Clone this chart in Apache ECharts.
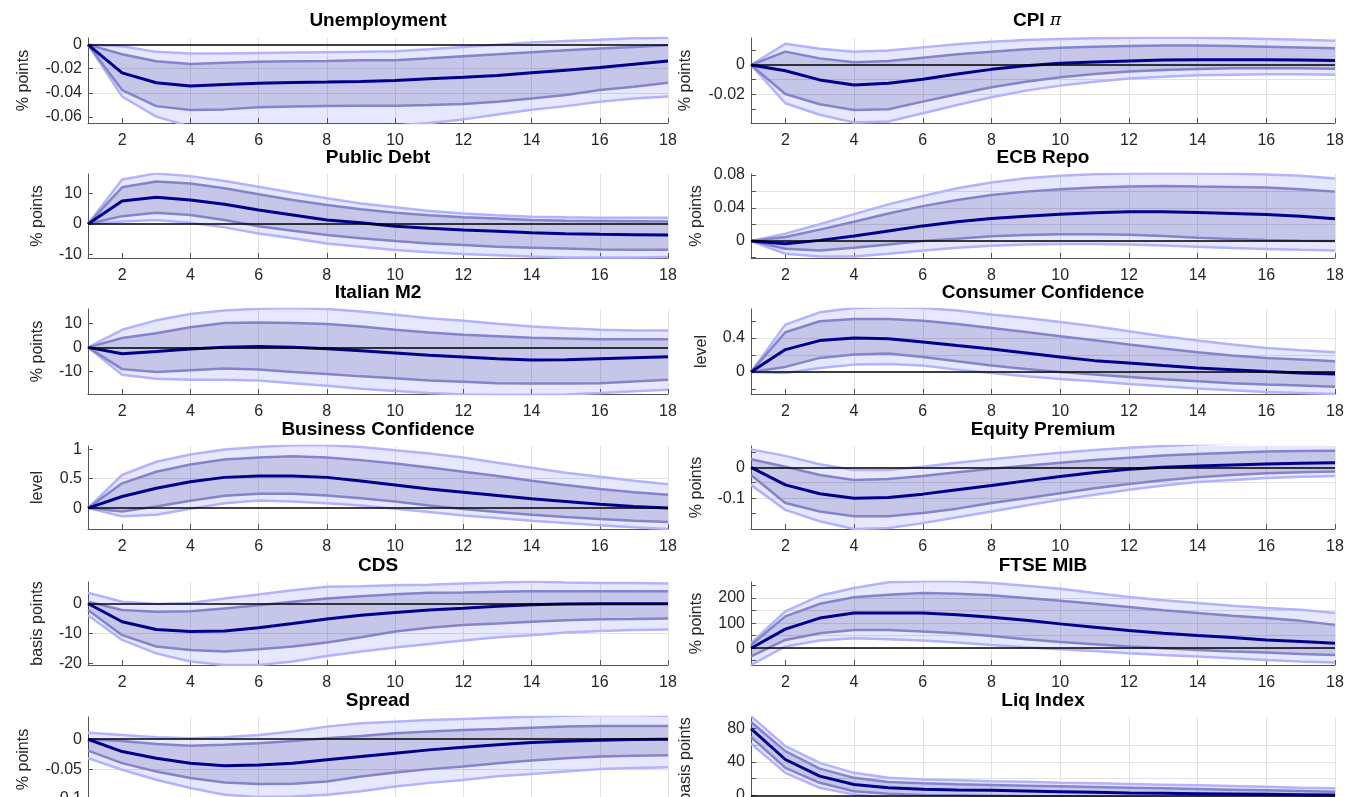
<!DOCTYPE html>
<html><head><meta charset="utf-8">
<script src="https://cdn.jsdelivr.net/npm/echarts@6/dist/echarts.min.js"></script>
<style>html,body{margin:0;padding:0;background:#fff;} #c{width:1348px;height:797px;}</style>
</head><body><div id="c"></div>
<script>
// ---------------- DATA ----------------
const horizons = [1,2,3,4,5,6,7,8,9,10,11,12,13,14,15,16,17,18];
const xTicks = [2,4,6,8,10,12,14,16,18];

// Unemployment
const unempMed   = [0,-0.0234,-0.0316,-0.0344,-0.033,-0.032,-0.0314,-0.031,-0.0305,-0.0297,-0.0283,-0.027,-0.0256,-0.0234,-0.0212,-0.019,-0.0162,-0.0135];
const unempInHi  = [0,-0.008,-0.0138,-0.016,-0.015,-0.0143,-0.0138,-0.0135,-0.013,-0.0129,-0.0113,-0.0096,-0.008,-0.0063,-0.0047,-0.0033,-0.0019,-0.0006];
const unempInLo  = [0,-0.0377,-0.051,-0.0542,-0.0537,-0.052,-0.0514,-0.051,-0.0506,-0.0506,-0.05,-0.0492,-0.0473,-0.0446,-0.0418,-0.0377,-0.035,-0.0316];
const unempOutHi = [0,-0.0014,-0.006,-0.0074,-0.0074,-0.0069,-0.0066,-0.0063,-0.006,-0.0055,-0.0039,-0.0019,0,0.0017,0.003,0.0041,0.0052,0.0058];
const unempOutLo = [0,-0.043,-0.0597,-0.068,-0.069,-0.068,-0.068,-0.068,-0.068,-0.067,-0.065,-0.062,-0.058,-0.054,-0.051,-0.0473,-0.0446,-0.043];
const unempRange = [-0.065, 0.0055];
const unempTicks = [-0.06,-0.04,-0.02,0];
const unempLabels = [-0.06,-0.04,-0.02,0];

// CPI
const cpiMed   = [0,-0.0039,-0.0102,-0.0136,-0.0125,-0.0098,-0.0061,-0.003,-0.0005,0.0011,0.002,0.0027,0.0034,0.0036,0.0036,0.0036,0.0034,0.003];
const cpiInHi  = [0,0.0091,0.0045,0.0018,0.0027,0.005,0.0073,0.0091,0.0107,0.0118,0.0125,0.013,0.0132,0.0132,0.013,0.0125,0.012,0.0114];
const cpiInLo  = [0,-0.0198,-0.0268,-0.0307,-0.0302,-0.025,-0.02,-0.0152,-0.0114,-0.0084,-0.0061,-0.0045,-0.0034,-0.0027,-0.0023,-0.0023,-0.0023,-0.0025];
const cpiOutHi = [0,0.0145,0.011,0.009,0.0098,0.012,0.0142,0.0158,0.017,0.0178,0.0183,0.0185,0.0186,0.0185,0.0182,0.0178,0.0172,0.0165];
const cpiOutLo = [0,-0.0261,-0.034,-0.0393,-0.0386,-0.033,-0.0273,-0.022,-0.0175,-0.0141,-0.0114,-0.0093,-0.008,-0.007,-0.0066,-0.0064,-0.0064,-0.0066];
const cpiRange = [-0.0396, 0.0184];
const cpiTicks = [-0.03,-0.02,-0.01,0,0.01];
const cpiLabels = [-0.02,0];

// Public Debt
const debtMed   = [0,7.6,8.8,7.9,6.5,4.6,3.0,1.3,0.4,-0.7,-1.4,-2.0,-2.4,-2.9,-3.2,-3.4,-3.5,-3.6];
const debtInHi  = [0,12.1,14.0,13.4,11.8,9.8,7.9,6.3,4.9,3.7,2.9,2.2,1.8,1.3,1.1,1.0,0.9,0.8];
const debtInLo  = [0,2.6,3.7,3.0,1.3,-0.7,-2.2,-3.6,-4.7,-5.6,-6.4,-6.9,-7.5,-7.8,-8.1,-8.4,-8.5,-8.5];
const debtOutHi = [0,14.7,16.7,15.8,14.2,12.3,10.3,8.5,6.8,5.5,4.3,3.5,2.9,2.4,2.2,2.1,2.1,2.1];
const debtOutLo = [0,0.8,1.3,0.4,-1.1,-3.1,-4.7,-6.4,-7.5,-8.6,-9.3,-9.9,-10.3,-10.7,-11.0,-11.0,-11.0,-10.9];
const debtRange = [-11.2, 16.5];
const debtTicks = [-10,0,10];
const debtLabels = [-10,0,10];

// ECB Repo
const ecbMed   = [0,-0.0032,0.0008,0.0061,0.0122,0.0183,0.0232,0.0272,0.03,0.0325,0.0341,0.0353,0.0353,0.0345,0.0333,0.0321,0.03,0.0268];
const ecbInHi  = [0,0.0049,0.0138,0.0232,0.0333,0.0422,0.0496,0.0556,0.0597,0.0625,0.0646,0.0658,0.0666,0.0658,0.0654,0.0646,0.0625,0.0597];
const ecbInLo  = [0,-0.0093,-0.0114,-0.0081,-0.0041,0,0.0028,0.0057,0.0073,0.0081,0.0081,0.0077,0.0061,0.0041,0.0024,0.0012,0.0004,0];
const ecbOutHi = [0,0.0089,0.0203,0.0325,0.0443,0.0544,0.0638,0.0707,0.076,0.0788,0.0808,0.0816,0.082,0.0816,0.0812,0.0804,0.0788,0.0755];
const ecbOutLo = [0,-0.0154,-0.0187,-0.0187,-0.0154,-0.0114,-0.0081,-0.0057,-0.0041,-0.0037,-0.0037,-0.0041,-0.0053,-0.0069,-0.0085,-0.0097,-0.0106,-0.0114];
const ecbRange = [-0.0205, 0.081];
const ecbTicks = [-0.02,0,0.02,0.04,0.06,0.08];
const ecbLabels = [0,0.04,0.08];

// Italian M2
const m2Med   = [0,-2.6,-1.7,-0.7,0.1,0.4,0.1,-0.6,-1.4,-2.3,-3.3,-4.0,-4.7,-5.2,-5.1,-4.7,-4.3,-3.9];
const m2InHi  = [0,3.9,5.9,8.3,10.1,10.3,10.1,9.7,8.7,7.3,6.2,5.2,4.6,4.0,3.7,3.4,3.4,3.4];
const m2InLo  = [0,-9.0,-10.2,-9.5,-8.7,-9.2,-10.2,-11.0,-12.0,-12.8,-13.7,-14.2,-14.8,-15.0,-15.0,-14.8,-14.1,-13.4];
const m2OutHi = [0,7.3,11.2,13.8,15.3,16.0,16.3,15.9,14.9,13.5,12.1,11.0,9.8,8.7,7.9,7.3,7.0,7.0];
const m2OutLo = [0,-11.3,-13.0,-13.4,-13.4,-13.7,-14.8,-15.9,-17.1,-18.1,-18.9,-19.5,-19.6,-19.6,-19.5,-18.9,-18.2,-17.5];
const m2Range = [-19.3, 15.9];
const m2Ticks = [-10,0,10];
const m2Labels = [-10,0,10];

// Consumer Confidence
const ccMed   = [0,0.263,0.369,0.4,0.392,0.353,0.31,0.271,0.224,0.176,0.133,0.106,0.075,0.047,0.027,0.004,-0.012,-0.024];
const ccInHi  = [0,0.467,0.596,0.624,0.624,0.604,0.565,0.518,0.471,0.42,0.373,0.322,0.275,0.231,0.192,0.165,0.145,0.125];
const ccInLo  = [0,0.059,0.165,0.204,0.216,0.176,0.125,0.075,0.035,0,-0.031,-0.059,-0.086,-0.11,-0.133,-0.149,-0.161,-0.176];
const ccOutHi = [0,0.557,0.702,0.753,0.761,0.753,0.722,0.675,0.635,0.588,0.537,0.478,0.42,0.369,0.322,0.282,0.255,0.231];
const ccOutLo = [0,-0.012,0.047,0.086,0.094,0.075,0.027,-0.012,-0.051,-0.082,-0.11,-0.141,-0.169,-0.196,-0.216,-0.235,-0.247,-0.259];
const ccRange = [-0.26, 0.741];
const ccTicks = [-0.2,0,0.2,0.4,0.6];
const ccLabels = [0,0.4];

// Business Confidence
const bcMed   = [0,0.197,0.337,0.449,0.522,0.545,0.545,0.522,0.461,0.393,0.326,0.27,0.213,0.157,0.112,0.067,0.028,0];
const bcInHi  = [0,0.421,0.618,0.742,0.826,0.86,0.882,0.86,0.815,0.758,0.691,0.618,0.545,0.466,0.393,0.326,0.27,0.225];
const bcInLo  = [0,-0.056,0.028,0.124,0.208,0.242,0.242,0.213,0.169,0.112,0.045,-0.017,-0.067,-0.112,-0.152,-0.185,-0.213,-0.236];
const bcOutHi = [0,0.562,0.787,0.91,0.994,1.04,1.067,1.067,1.04,0.983,0.927,0.86,0.77,0.685,0.601,0.534,0.466,0.404];
const bcOutLo = [0,-0.14,-0.112,-0.011,0.084,0.129,0.112,0.084,0.045,-0.011,-0.067,-0.124,-0.169,-0.213,-0.253,-0.292,-0.326,-0.354];
const bcRange = [-0.355, 1.055];
const bcTicks = [0,0.5,1];
const bcLabels = [0,0.5,1];

// Equity Premium
const eqMed   = [0,-0.057,-0.086,-0.1,-0.098,-0.087,-0.073,-0.059,-0.044,-0.03,-0.017,-0.0065,0,0.0043,0.0075,0.0108,0.0129,0.015];
const eqInHi  = [0.026,0.002,-0.025,-0.041,-0.038,-0.028,-0.016,-0.005,0.005,0.015,0.024,0.031,0.038,0.043,0.047,0.051,0.053,0.054];
const eqInLo  = [-0.025,-0.116,-0.143,-0.159,-0.159,-0.148,-0.134,-0.116,-0.1,-0.084,-0.068,-0.054,-0.042,-0.032,-0.025,-0.019,-0.016,-0.014];
const eqOutHi = [0.058,0.037,0.01,-0.009,-0.009,0.002,0.015,0.026,0.037,0.047,0.056,0.063,0.069,0.074,0.077,0.08,0.083,0.085];
const eqOutLo = [-0.057,-0.138,-0.175,-0.2,-0.197,-0.181,-0.162,-0.143,-0.124,-0.105,-0.089,-0.073,-0.059,-0.048,-0.041,-0.035,-0.031,-0.028];
const eqRange = [-0.2, 0.069];
const eqTicks = [-0.15,-0.1,-0.05,0,0.05];
const eqLabels = [-0.1,0];

// CDS
const cdsMed   = [0,-6.1,-8.7,-9.4,-9.2,-8.1,-6.7,-5.2,-3.9,-3.0,-2.2,-1.6,-0.9,-0.4,-0.2,-0.1,-0.1,-0.1];
const cdsInHi  = [0.6,-2.2,-2.8,-2.6,-1.7,-0.6,0.6,1.7,2.4,3.1,3.6,3.7,3.9,4.1,4.1,4.1,4.1,4.1];
const cdsInLo  = [-2.2,-10.6,-14.4,-15.6,-16.1,-15.3,-14.4,-13.1,-11.3,-9.4,-8.1,-7.2,-6.7,-6.1,-5.6,-5.3,-5.2,-5.0];
const cdsOutHi = [3.6,0.6,-0.2,0.2,1.7,3.0,4.4,5.6,5.8,6.1,6.3,6.7,7.0,7.4,7.0,6.9,6.9,6.7];
const cdsOutLo = [-3.9,-12.2,-16.7,-19.4,-20.6,-20.6,-19.4,-17.6,-16.1,-14.7,-13.6,-12.4,-11.3,-10.6,-9.7,-9.2,-8.9,-8.7];
const cdsRange = [-20.6, 7.2];
const cdsTicks = [-20,-10,0];
const cdsLabels = [-20,-10,0];

// FTSE MIB
const ftseMed   = [0,76,120,140,140,140,133,123,111,97,84,71,60,51,43,33,27,20];
const ftseInHi  = [13,127,177,203,213,220,217,211,200,189,177,164,151,140,129,120,109,93];
const ftseInLo  = [-33,33,60,73,73,67,60,49,36,25,16,7,0,-7,-13,-17,-23,-27];
const ftseOutHi = [20,147,209,240,263,267,267,260,249,237,220,204,191,180,169,160,153,140];
const ftseOutLo = [-67,7,31,40,36,31,23,13,4,-4,-11,-20,-27,-33,-40,-47,-53,-57];
const ftseRange = [-67, 264];
const ftseTicks = [-50,0,50,100,150,200,250];
const ftseLabels = [0,100,200];

// Spread
const spMed   = [0,-0.0206,-0.0317,-0.04,-0.0444,-0.0433,-0.04,-0.0344,-0.0289,-0.0233,-0.0178,-0.0133,-0.0094,-0.0056,-0.0033,-0.0017,-0.0006,0];
const spInHi  = [0,-0.0028,-0.0078,-0.0111,-0.0094,-0.0067,-0.0028,0.0017,0.0056,0.01,0.0128,0.0156,0.0172,0.0194,0.0211,0.0222,0.0222,0.0222];
const spInLo  = [-0.019,-0.04,-0.0539,-0.065,-0.0722,-0.075,-0.0744,-0.0706,-0.0622,-0.0556,-0.05,-0.0456,-0.04,-0.0356,-0.0317,-0.0289,-0.0278,-0.0267];
const spOutHi = [0.011,0.0072,0.0033,0.0017,0.0033,0.0072,0.0128,0.0211,0.0267,0.0294,0.0322,0.0339,0.0361,0.0378,0.0394,0.04,0.04,0.0394];
const spOutLo = [-0.0317,-0.051,-0.0678,-0.0817,-0.0928,-0.0967,-0.096,-0.093,-0.087,-0.079,-0.073,-0.068,-0.062,-0.058,-0.054,-0.05,-0.048,-0.047];
const spRange = [-0.105, 0.0372];
const spTicks = [-0.1,-0.05,0];
const spLabels = [-0.1,-0.05,0];

// Liq Index
const liqMed   = [80,43,23,13,9,7.2,6.4,6,5.2,4.4,3.6,2.8,2.4,2,1.6,1.2,0.8,0.4];
const liqInHi  = [88,53,32,21,16,14.4,13.2,12.4,11.6,10.8,10,9.2,8.4,7.6,6.8,6,5.2,4.4];
const liqInLo  = [70,33,15,5,2,0.4,0,-0.5,-1,-1.5,-2,-2.5,-3,-3.3,-3.6,-3.8,-4,-4.2];
const liqOutHi = [95,59,39,27,21,19,18,17,16.4,15.2,14.4,13.6,12.8,12,11.2,10.4,9.2,8.4];
const liqOutLo = [62,27,9,1,-3,-4.5,-5.5,-6,-6.5,-7,-7.5,-8,-8.3,-8.6,-8.8,-9,-9.2,-9.4];
const liqRange = [-8, 94];
const liqTicks = [0,20,40,60,80];
const liqLabels = [0,40,80];

const titles = ['Unemployment','CPI','Public Debt','ECB Repo','Italian M2','Consumer Confidence','Business Confidence','Equity Premium','CDS','FTSE MIB','Spread','Liq Index'];
const units  = ['% points','% points','% points','% points','% points','level','level','% points','basis points','% points','% points','basis points'];

// ---------------- LAYOUT / STYLE ----------------
const colLeft = [88, 751], colWidth = [580, 584];
const rowTop = [38, 174, 309, 446, 582, 717], rowHeight = [85, 84, 85, 83, 83, 85];
const titleY = [21, 158, 293, 430, 566, 701];
const nameGaps = [56, 57, 42, 46, 42, 41, 42, 46, 42, 46, 56, 57];
const FONT = '"Liberation Sans", Arial, sans-serif';
const C = {
  outerFill: 'rgba(0,0,255,0.095)', innerFill: 'rgba(0,0,100,0.14)',
  outerEdge: '#b2b2ff', innerEdge: '#8484c8', median: '#00008c',
  axis: '#555555', grid: '#e2e2e2', text: '#262626'
};

const panels = [
  {med:unempMed, inHi:unempInHi, inLo:unempInLo, outHi:unempOutHi, outLo:unempOutLo, range:unempRange, ticks:unempTicks, labels:unempLabels},
  {med:cpiMed, inHi:cpiInHi, inLo:cpiInLo, outHi:cpiOutHi, outLo:cpiOutLo, range:cpiRange, ticks:cpiTicks, labels:cpiLabels},
  {med:debtMed, inHi:debtInHi, inLo:debtInLo, outHi:debtOutHi, outLo:debtOutLo, range:debtRange, ticks:debtTicks, labels:debtLabels},
  {med:ecbMed, inHi:ecbInHi, inLo:ecbInLo, outHi:ecbOutHi, outLo:ecbOutLo, range:ecbRange, ticks:ecbTicks, labels:ecbLabels},
  {med:m2Med, inHi:m2InHi, inLo:m2InLo, outHi:m2OutHi, outLo:m2OutLo, range:m2Range, ticks:m2Ticks, labels:m2Labels},
  {med:ccMed, inHi:ccInHi, inLo:ccInLo, outHi:ccOutHi, outLo:ccOutLo, range:ccRange, ticks:ccTicks, labels:ccLabels},
  {med:bcMed, inHi:bcInHi, inLo:bcInLo, outHi:bcOutHi, outLo:bcOutLo, range:bcRange, ticks:bcTicks, labels:bcLabels},
  {med:eqMed, inHi:eqInHi, inLo:eqInLo, outHi:eqOutHi, outLo:eqOutLo, range:eqRange, ticks:eqTicks, labels:eqLabels},
  {med:cdsMed, inHi:cdsInHi, inLo:cdsInLo, outHi:cdsOutHi, outLo:cdsOutLo, range:cdsRange, ticks:cdsTicks, labels:cdsLabels},
  {med:ftseMed, inHi:ftseInHi, inLo:ftseInLo, outHi:ftseOutHi, outLo:ftseOutLo, range:ftseRange, ticks:ftseTicks, labels:ftseLabels},
  {med:spMed, inHi:spInHi, inLo:spInLo, outHi:spOutHi, outLo:spOutLo, range:spRange, ticks:spTicks, labels:spLabels},
  {med:liqMed, inHi:liqInHi, inLo:liqInLo, outHi:liqOutHi, outLo:liqOutLo, range:liqRange, ticks:liqTicks, labels:liqLabels}
];

function fmt(v){ return String(Math.round(v*1e6)/1e6); }
function pairs(arr){ return horizons.map((h,k)=>[h, arr[k]]); }

// band polygon drawn through the axis scales (api.coord), clipped to the plot rect
function bandSeries(i, lo, hi, fill) {
  return {
    type: 'custom', xAxisIndex: i, yAxisIndex: i, silent: true, clip: true, animation: false,
    data: [[horizons[0], 0]],
    renderItem: function (params, api) {
      const pts = [];
      for (let k = 0; k < horizons.length; k++) pts.push(api.coord([horizons[k], hi[k]]));
      for (let k = horizons.length - 1; k >= 0; k--) pts.push(api.coord([horizons[k], lo[k]]));
      const cs = params.coordSys;
      return {
        type: 'polygon', shape: {points: pts}, style: {fill: fill, stroke: null},
        clipPath: {type: 'rect', shape: {x: cs.x, y: cs.y, width: cs.width, height: cs.height}}
      };
    }
  };
}

const grids = [], xAxes = [], yAxes = [], series = [], graphics = [];
panels.forEach((p, i) => {
  const col = i % 2, row = Math.floor(i / 2);
  grids.push({left: colLeft[col], top: rowTop[row], width: colWidth[col], height: rowHeight[row],
    outerBoundsMode: 'none', containLabel: false});
  xAxes.push({
    gridIndex: i, type: 'value', min: 1, max: 18, minInterval: 2, maxInterval: 2,
    axisLine: {show: true, onZero: false, lineStyle: {color: C.axis, width: 1}},
    axisTick: {show: true, inside: true, length: 5, customValues: xTicks, lineStyle: {color: C.axis}},
    axisLabel: {customValues: xTicks, fontSize: 16, fontFamily: FONT, color: C.text, margin: 10,
      formatter: v => xTicks.indexOf(v) >= 0 ? String(v) : ''},
    splitLine: {show: true, showMinLine: false, showMaxLine: true, lineStyle: {color: C.grid, width: 1}}
  });
  const step = +(p.ticks[1] - p.ticks[0]).toFixed(6);
  yAxes.push({
    gridIndex: i, type: 'value', min: p.range[0], max: p.range[1], minInterval: step, maxInterval: step,
    name: units[i], nameLocation: 'middle', nameRotate: 90, nameGap: nameGaps[i],
    nameTextStyle: {fontSize: 16, fontFamily: FONT, color: C.text},
    axisLine: {show: true, onZero: false, lineStyle: {color: C.axis, width: 1}},
    axisTick: {show: true, inside: true, length: 5, customValues: p.ticks, lineStyle: {color: C.axis}},
    axisLabel: {customValues: p.labels, fontSize: 16, fontFamily: FONT, color: C.text, margin: 6,
      formatter: v => p.labels.some(l => Math.abs(l - v) < step * 1e-3) ? fmt(v) : ''},
    splitLine: {show: true, showMinLine: false, showMaxLine: false, lineStyle: {color: C.grid, width: 1}}
  });
  const common = {xAxisIndex: i, yAxisIndex: i, symbol: 'none', silent: true, animation: false};
  // band fills
  series.push(bandSeries(i, p.outLo, p.outHi, C.outerFill));
  series.push(bandSeries(i, p.inLo, p.inHi, C.innerFill));
  // band edges
  series.push(Object.assign({type: 'line', data: pairs(p.outLo), lineStyle: {color: C.outerEdge, width: 2.5}}, common));
  series.push(Object.assign({type: 'line', data: pairs(p.outHi), lineStyle: {color: C.outerEdge, width: 2.5}}, common));
  series.push(Object.assign({type: 'line', data: pairs(p.inLo), lineStyle: {color: C.innerEdge, width: 2.5}}, common));
  series.push(Object.assign({type: 'line', data: pairs(p.inHi), lineStyle: {color: C.innerEdge, width: 2.5}}, common));
  // median with zero reference line
  series.push(Object.assign({type: 'line', data: pairs(p.med), lineStyle: {color: C.median, width: 3},
    markLine: {silent: true, symbol: 'none', label: {show: false}, animation: false,
      lineStyle: {color: '#000', width: 1.5, type: 'solid'}, data: [{yAxis: 0}]}}, common));
  // title
  const cx = colLeft[col] + colWidth[col] / 2;
  if (titles[i] === 'CPI') {
    graphics.push({type: 'text', x: cx - 6, y: titleY[row], z: 100, style: {
      text: '{a|CPI }{b|π}', align: 'center', verticalAlign: 'middle',
      rich: {a: {font: 'bold 19px ' + FONT, fill: '#000'}, b: {font: 'italic 17px "DejaVu Serif", serif', fill: '#000'}}}});
  } else {
    graphics.push({type: 'text', x: cx, y: titleY[row], z: 100, style: {
      text: titles[i], align: 'center', verticalAlign: 'middle', font: 'bold 19px ' + FONT, fill: '#000'}});
  }
});

const chart = echarts.init(document.getElementById('c'), null, {renderer: 'canvas'});
chart.setOption({
  animation: false, backgroundColor: '#fff',
  grid: grids, xAxis: xAxes, yAxis: yAxes, series: series, graphic: graphics
});
</script></body></html>
